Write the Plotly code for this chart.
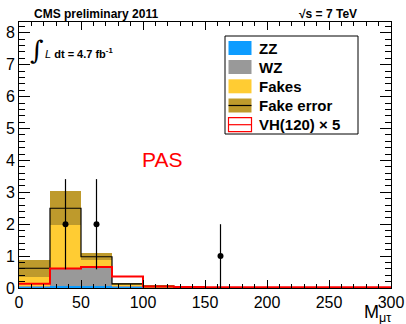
import plotly.graph_objects as go

# ---------------- data ----------------
bin_edges = [0, 25, 50, 75, 100, 125, 150, 175, 200, 225, 250, 275, 300]
zz = [0.05, 0.07, 0.07, 0.02, 0.01, 0, 0, 0, 0, 0, 0, 0]
wz = [0.01, 0.54, 0.59, 0.07, 0.02, 0, 0, 0, 0, 0, 0, 0]
fakes = [0.56, 1.89, 0.32, 0.04, 0.02, 0, 0, 0, 0, 0, 0, 0]
fake_err = [0.27, 0.54, 0.11, 0.03, 0.035, 0, 0, 0, 0, 0, 0, 0]
vh120x5 = [0.13, 0.61, 0.66, 0.36, 0.05, 0.03, 0.02, 0.02, 0.02, 0.02, 0.02, 0.02]
data_x = [37.5, 62.5, 162.5]
data_y = [2, 2, 1]
data_err = [2 ** 0.5, 2 ** 0.5, 1.0]

x_ticks = [0, 50, 100, 150, 200, 250, 300]
y_ticks = [0, 1, 2, 3, 4, 5, 6, 7, 8]

# ---------------- colours ----------------
C_ZZ = "#0d9cff"
C_WZ = "#999999"
C_FAKE = "#ffcc33"
C_ERR = "#be9a2c"
C_VH = "#ff0000"

centers = [(bin_edges[i] + bin_edges[i + 1]) / 2 for i in range(len(bin_edges) - 1)]
width = [bin_edges[i + 1] - bin_edges[i] for i in range(len(bin_edges) - 1)]
base_wz = zz
base_fk = [a + b for a, b in zip(zz, wz)]
total = [a + b + c for a, b, c in zip(zz, wz, fakes)]
band_lo = [t - e for t, e in zip(total, fake_err)]
band_h = [2 * e for e in fake_err]

fig = go.Figure()
fig.add_trace(go.Bar(x=centers, y=zz, width=width, base=[0] * len(zz),
                     marker=dict(color=C_ZZ, line=dict(width=0)), name="ZZ"))
fig.add_trace(go.Bar(x=centers, y=wz, width=width, base=base_wz,
                     marker=dict(color=C_WZ, line=dict(width=0)), name="WZ"))
fig.add_trace(go.Bar(x=centers, y=fakes, width=width, base=base_fk,
                     marker=dict(color=C_FAKE, line=dict(width=0)), name="Fakes"))
fig.add_trace(go.Bar(x=centers, y=band_h, width=width, base=band_lo,
                     marker=dict(color=C_ERR, line=dict(width=0)), name="Fake error"))
fig.add_trace(go.Scatter(x=bin_edges, y=total + [total[-1]], mode="lines",
                         line=dict(color="black", width=1.2, shape="hv"),
                         hoverinfo="skip"))
fig.add_trace(go.Scatter(x=bin_edges, y=vh120x5 + [vh120x5[-1]], mode="lines",
                         line=dict(color=C_VH, width=2, shape="hv"),
                         name="VH(120) x 5"))
fig.add_trace(go.Scatter(x=data_x, y=data_y, mode="markers",
                         marker=dict(color="black", size=6),
                         error_y=dict(type="data", array=data_err, color="black",
                                      thickness=1.2, width=0),
                         name="data"))

# pixel -> paper helpers
PL, PR, PT, PB = 19, 391, 22, 288


def px(x):
    return (x - PL) / (PR - PL)


def py(y):
    return (PB - y) / (PB - PT)


FONT = "Liberation Sans, Arial, Helvetica, sans-serif"

shapes = []
annotations = []

# legend box
shapes.append(dict(type="rect", xref="paper", yref="paper",
                   x0=px(225), x1=px(358), y0=py(134), y1=py(36),
                   line=dict(color="black", width=1), fillcolor="white"))
leg_y = [48, 67, 86.3, 105.5, 124.7]
leg_txt = ["ZZ", "WZ", "Fakes", "Fake error", "VH(120) × 5"]
sw_x0, sw_x1 = 228.5, 251.5
for i, (yc, t) in enumerate(zip(leg_y, leg_txt)):
    if i < 4:
        col = [C_ZZ, C_WZ, C_FAKE, C_ERR][i]
        shapes.append(dict(type="rect", xref="paper", yref="paper",
                           x0=px(sw_x0), x1=px(sw_x1), y0=py(yc + 7), y1=py(yc - 7),
                           line=dict(width=0), fillcolor=col))
        if i == 3:
            shapes.append(dict(type="line", xref="paper", yref="paper",
                               x0=px(sw_x0), x1=px(sw_x1), y0=py(yc), y1=py(yc),
                               line=dict(color="black", width=1.2)))
    else:
        shapes.append(dict(type="rect", xref="paper", yref="paper",
                           x0=px(sw_x0), x1=px(sw_x1), y0=py(yc + 7), y1=py(yc - 7),
                           line=dict(color=C_VH, width=1.2), fillcolor="white"))
        shapes.append(dict(type="line", xref="paper", yref="paper",
                           x0=px(sw_x0), x1=px(sw_x1), y0=py(yc), y1=py(yc),
                           line=dict(color=C_VH, width=1.2)))
    annotations.append(dict(xref="paper", yref="paper", x=px(256.5), y=py(yc),
                            xanchor="left", yanchor="middle", showarrow=False,
                            text="<b>%s</b>" % t,
                            font=dict(family=FONT, size=15, color="black")))

# top texts
annotations.append(dict(xref="paper", yref="paper", x=px(32), y=py(14.5),
                        xanchor="left", yanchor="middle", showarrow=False,
                        text="<b>CMS preliminary 2011</b>",
                        font=dict(family=FONT, size=12, color="black")))
annotations.append(dict(xref="paper", yref="paper", x=px(359), y=py(14.5),
                        xanchor="right", yanchor="middle", showarrow=False,
                        text="<b>√s = 7 TeV</b>",
                        font=dict(family=FONT, size=12, color="black")))
# integral luminosity
annotations.append(dict(xref="paper", yref="paper", x=px(37), y=py(50),
                        xanchor="center", yanchor="middle", showarrow=False,
                        text="∫",
                        font=dict(family="DejaVu Serif, serif", size=26, color="black")))
annotations.append(dict(xref="paper", yref="paper", x=px(43), y=py(53),
                        xanchor="left", yanchor="middle", showarrow=False,
                        text="<i>L</i> <b>dt = 4.7 fb<sup>-1</sup></b>",
                        font=dict(family=FONT, size=11, color="black")))
# PAS
annotations.append(dict(xref="paper", yref="paper", x=px(162), y=py(159.5),
                        xanchor="center", yanchor="middle", showarrow=False,
                        text="PAS",
                        font=dict(family=FONT, size=21, color=C_VH)))
# x-axis title
annotations.append(dict(xref="paper", yref="paper", x=px(393), y=py(313),
                        xanchor="right", yanchor="middle", showarrow=False,
                        text="M<sub>μτ</sub>",
                        font=dict(family=FONT, size=18, color="black")))

fig.update_layout(
    width=406, height=324,
    margin=dict(l=PL, r=406 - PR, t=PT, b=324 - PB, pad=0, autoexpand=False),
    paper_bgcolor="white", plot_bgcolor="white",
    barmode="overlay", bargap=0,
    showlegend=False,
    shapes=shapes, annotations=annotations,
    font=dict(family=FONT, size=16, color="black"),
)
fig.update_xaxes(range=[0, 300], tickvals=x_ticks, ticktext=[str(v) for v in x_ticks],
                 ticks="inside", ticklen=8, tickcolor="black", tickwidth=1,
                 minor=dict(dtick=10, ticks="inside", ticklen=4, tickcolor="black"),
                 showline=True, linecolor="black", linewidth=1, mirror="ticks",
                 showgrid=False, zeroline=False, automargin=False,
                 tickfont=dict(family=FONT, size=16, color="black"))
fig.update_yaxes(range=[0, 8.34], tickvals=y_ticks, ticktext=[str(v) for v in y_ticks],
                 ticks="inside", ticklen=11, tickcolor="black", tickwidth=1,
                 minor=dict(dtick=0.2, ticks="inside", ticklen=6, tickcolor="black"),
                 showline=True, linecolor="black", linewidth=1, mirror="ticks",
                 showgrid=False, zeroline=False, automargin=False,
                 tickfont=dict(family=FONT, size=16, color="black"))

fig.write_html("out.html")
